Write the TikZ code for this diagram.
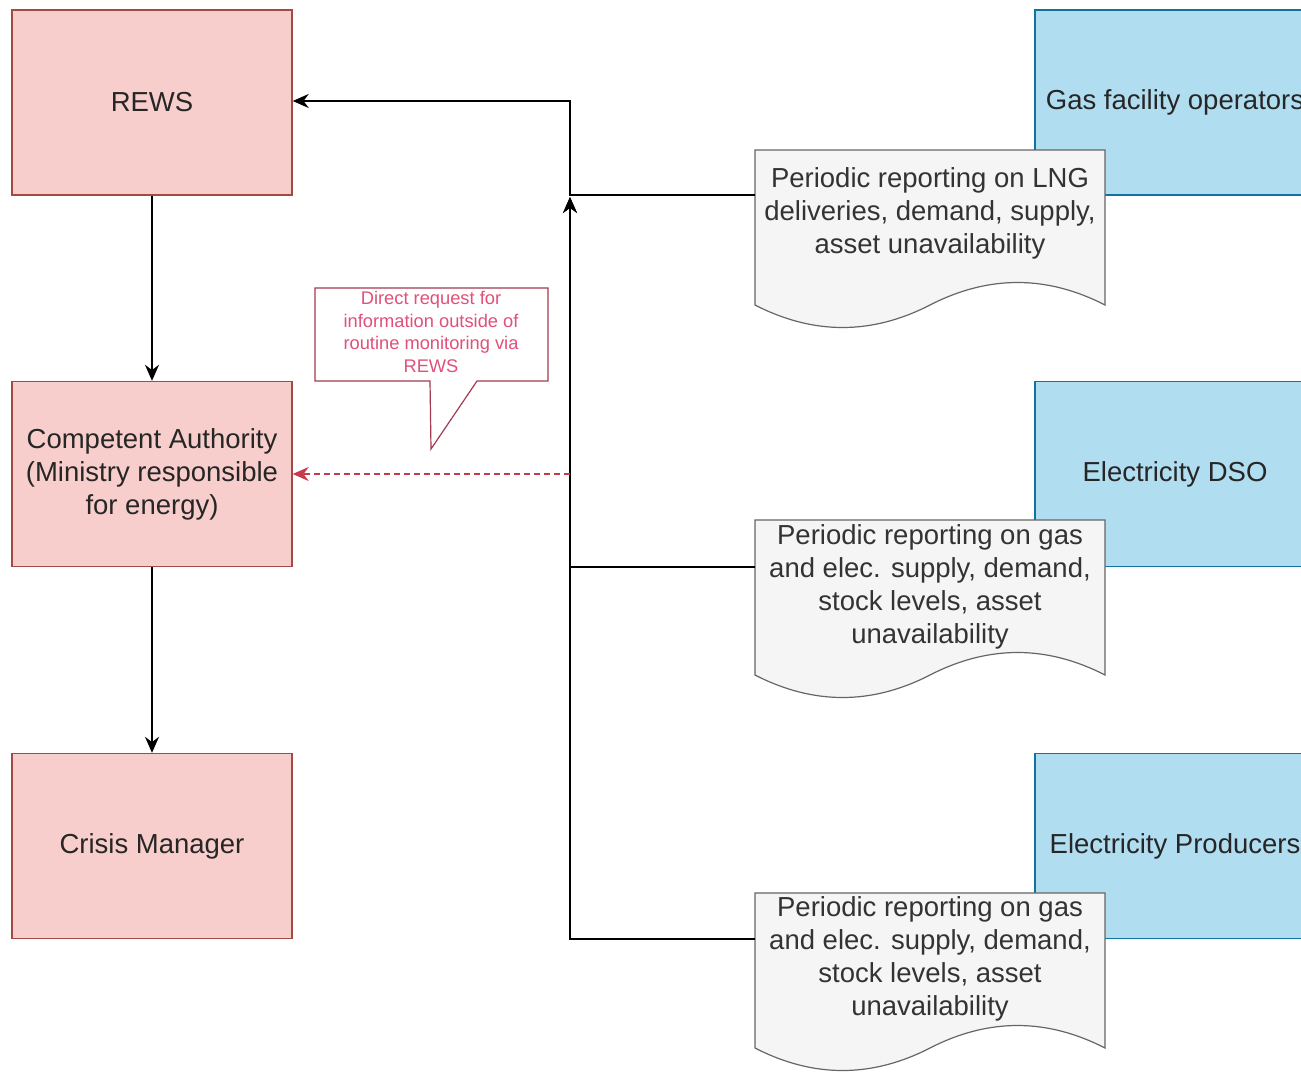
\documentclass[tikz,border=0pt]{standalone}
\usepackage{fontspec}
\setmainfont{Liberation Sans}
\usetikzlibrary{arrows.meta,calc}
\definecolor{pinkfill}{HTML}{F8CECC}
\definecolor{pinkline}{HTML}{A34A47}
\definecolor{bluefill}{HTML}{B1DDF0}
\definecolor{blueline}{HTML}{10739E}
\definecolor{docfill}{HTML}{F5F5F5}
\definecolor{docline}{HTML}{666666}
\definecolor{doctext}{HTML}{333333}
\definecolor{calloutline}{HTML}{A33A52}
\definecolor{callouttext}{HTML}{E0507A}
\definecolor{reddash}{HTML}{C8394C}
\newcommand\docwave[1]{%
  \begin{scope}[shift={(#1.north west)}]
    \draw[docshape] (0,0) -- (350,0) -- (350,155)
      .. controls (291.7,125) and (233.3,125) .. (175,155)
      .. controls (116.7,185) and (58.3,185) .. (0,155) -- cycle;
  \end{scope}}
\begin{document}
\begin{tikzpicture}[x=1pt,y=-1pt,
  bigfont/.style={font=\fontsize{27.5}{33}\selectfont},
  actor/.style={draw=pinkline, fill=pinkfill, line width=1.4pt, minimum width=280pt, minimum height=185pt, align=center, text=black!85, bigfont, inner sep=0pt},
  party/.style={draw=blueline, fill=bluefill, line width=1.4pt, minimum width=280pt, minimum height=185pt, align=center, text=black!85, bigfont, inner sep=0pt},
  docarea/.style={minimum width=350pt, minimum height=180pt, inner sep=0pt, anchor=north west},
  docshape/.style={draw=docline, fill=docfill, line width=1.2pt},
  doclabel/.style={align=center, text=doctext, bigfont, inner sep=0pt},
  flow/.style={line width=1.7pt, -{Stealth[length=16pt,width=14pt]}},
  reqflow/.style={line width=1.4pt, draw=reddash, dash pattern=on 6pt off 4pt, -{Stealth[length=16pt,width=14pt,fill=reddash]}},
  calloutshape/.style={draw=calloutline, fill=white, line width=1.2pt},
  calloutlabel/.style={align=center, text=callouttext, font=\fontsize{18.3}{22.6}\selectfont, inner sep=0pt}
]
\clip (0,0) rectangle (1301,1074);
\fill[white] (0,0) rectangle (1301,1074);

% left chain
\node[actor] (rews) at (152,102.5) {REWS};
\node[actor] (ca) at (152,474) {Competent Authority\\(Ministry responsible\\for energy)};
\node[actor] (cm) at (152,846) {Crisis Manager};

% right parties
\node[party] (gas) at (1175,102.5) {Gas facility operators};
\node[party] (dso) at (1175,474) {Electricity DSO};
\node[party] (prod) at (1175,846) {Electricity Producers};

% documents
\node[docarea] (doc1) at (755,150) {};
\node[docarea] (doc2) at (755,520) {};
\node[docarea] (doc3) at (755,893) {};
\docwave{doc1}
\docwave{doc2}
\docwave{doc3}
\node[doclabel] (doc1t) at (930,213) {Periodic reporting on LNG\\deliveries, demand, supply,\\asset unavailability};
\node[doclabel] (doc2t) at (930,586.5) {Periodic reporting on gas\\and elec. supply, demand,\\stock levels, asset\\unavailability};
\node[doclabel] (doc3t) at (930,958.5) {Periodic reporting on gas\\and elec. supply, demand,\\stock levels, asset\\unavailability};

% connector points
\coordinate (bus) at (570,197);
\coordinate (g1) at (755,195);
\coordinate (g2) at (570,195);
\coordinate (g3) at (570,101);
\coordinate (d1) at (755,567);
\coordinate (p1) at (755,939);
\coordinate (req) at (570,474);

% connectors
\draw[flow] (rews) -- (ca);
\draw[flow] (ca) -- (cm);
\draw[flow] (g1) -- (g2) -- (g3) -- (rews.east |- g3);
\draw[flow] (d1) -| (bus);
\draw[flow] (p1) -| (bus);
\draw[reqflow] (req) -- (ca.east |- req);

% callout
\node[minimum width=233pt, minimum height=93pt, inner sep=0pt, anchor=north west] (note) at (315,288) {};
\begin{scope}[shift={(note.north west)}]
  \draw[calloutshape] (0,0) -- (233,0) -- (233,93) -- (162,93) -- (116,161) -- (115,93) -- (0,93) -- cycle;
\end{scope}
\node[calloutlabel] (notet) at (431,332) {Direct request for\\information outside of\\routine monitoring via\\REWS};
\end{tikzpicture}
\end{document}
